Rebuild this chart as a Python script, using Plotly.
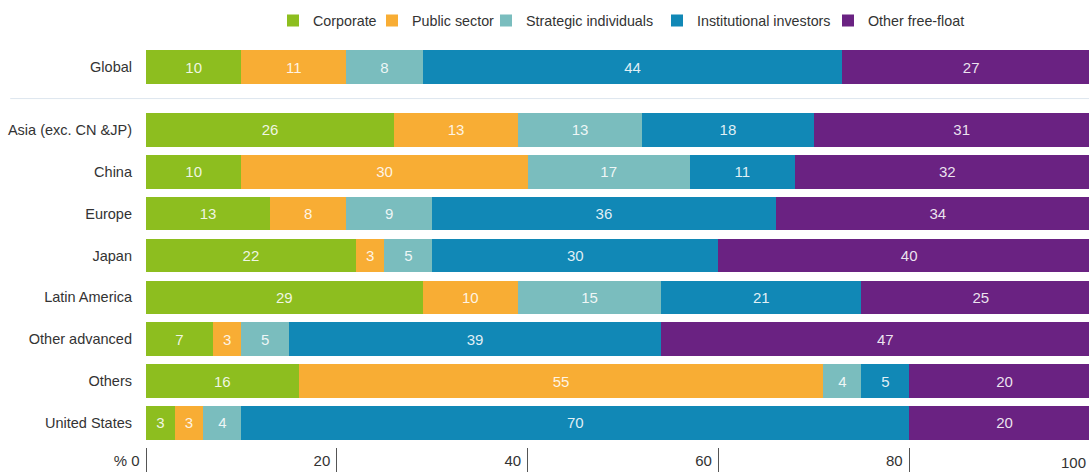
import plotly.graph_objects as go

# Shareholder composition by region (% of market capitalisation)
regions = ["Global", "Asia (exc. CN &JP)", "China", "Europe", "Japan",
           "Latin America", "Other advanced", "Others", "United States"]
positions = [8.5, 7, 6, 5, 4, 3, 2, 1, 0]

corporate = [10, 26, 10, 13, 22, 29, 7, 16, 3]
public_sector = [11, 13, 30, 8, 3, 10, 3, 55, 3]
strategic_individuals = [8, 13, 17, 9, 5, 15, 5, 4, 4]
institutional_investors = [44, 18, 11, 36, 30, 21, 39, 5, 70]
other_free_float = [27, 31, 32, 34, 40, 25, 47, 20, 20]

series_names = ["Corporate", "Public sector", "Strategic individuals",
                "Institutional investors", "Other free-float"]
series_values = [corporate, public_sector, strategic_individuals,
                 institutional_investors, other_free_float]
series_colors = ["#8DBE1F", "#F8AD34", "#7ABDBE", "#1188B6", "#6A2282"]

x_ticks = [0, 20, 40, 60, 80]
x_tick_text = ["% 0", "20", "40", "60", "80"]
x_max_tick = 100

FONT = "Liberation Sans, Arial, sans-serif"
W, H = 1089, 472
X_MAX = 98.85

# left edge (px) of each legend entry's swatch, one legend box per entry
legend_left_px = [287, 386, 500, 671, 842]

fig = go.Figure()
for i, (name, vals, color) in enumerate(zip(series_names, series_values,
                                            series_colors)):
    fig.add_trace(go.Bar(
        name=name,
        x=vals,
        y=positions,
        orientation="h",
        width=0.8,
        marker=dict(color=color, line=dict(width=0)),
        text=vals,
        texttemplate="%{text}",
        textposition="inside",
        insidetextanchor="middle",
        textangle=0,
        constraintext="none",
        textfont=dict(family=FONT, size=15, color="rgba(255,255,255,0.88)"),
        hoverinfo="skip",
        legend="legend" if i == 0 else f"legend{i + 1}",
    ))

legend_layout = {}
for i, left in enumerate(legend_left_px):
    key = "legend" if i == 0 else f"legend{i + 1}"
    legend_layout[key] = dict(
        orientation="h",
        xref="container", yref="container",
        x=(left - 14) / W, xanchor="left",
        y=0.99, yanchor="top",
        bgcolor="rgba(0,0,0,0)",
        font=dict(family=FONT, size=14.3, color="#333333"),
        itemwidth=30,
    )

# thin divider between the global bar and the regional bars
fig.add_shape(type="line", xref="paper", yref="y",
              x0=-0.144, x1=1, y0=7.75, y1=7.75,
              line=dict(color="#DDE6EE", width=1))

# last tick label sits at the right edge of the plot
fig.add_annotation(x=1.0, y=0, xref="paper", yref="paper",
                   xanchor="right", yanchor="middle", yshift=-15, xshift=-1,
                   text=str(x_max_tick), showarrow=False,
                   font=dict(family=FONT, size=15, color="#333333"))

fig.update_layout(
    width=W, height=H,
    margin=dict(l=146, r=0, t=45, b=25),
    barmode="stack",
    plot_bgcolor="white",
    paper_bgcolor="white",
    font=dict(family=FONT, size=15, color="#333333"),
    showlegend=True,
    **legend_layout,
)

fig.update_xaxes(
    range=[0, X_MAX],
    tickvals=x_ticks,
    ticktext=x_tick_text,
    ticks="outside",
    ticklen=24,
    tickcolor="#555555",
    tickwidth=1,
    ticklabelposition="outside left",
    ticklabelshift=-6,
    showgrid=False,
    zeroline=False,
    showline=False,
    automargin=False,
    tickfont=dict(family=FONT, size=15, color="#333333"),
)
fig.update_yaxes(
    range=[-0.575, 9.03],
    tickvals=positions,
    ticktext=regions,
    showgrid=False,
    zeroline=False,
    showline=False,
    ticks="",
    ticklabelstandoff=13,
    automargin=False,
    tickfont=dict(family=FONT, size=14.5, color="#333333"),
)

fig.write_html("out.html")
